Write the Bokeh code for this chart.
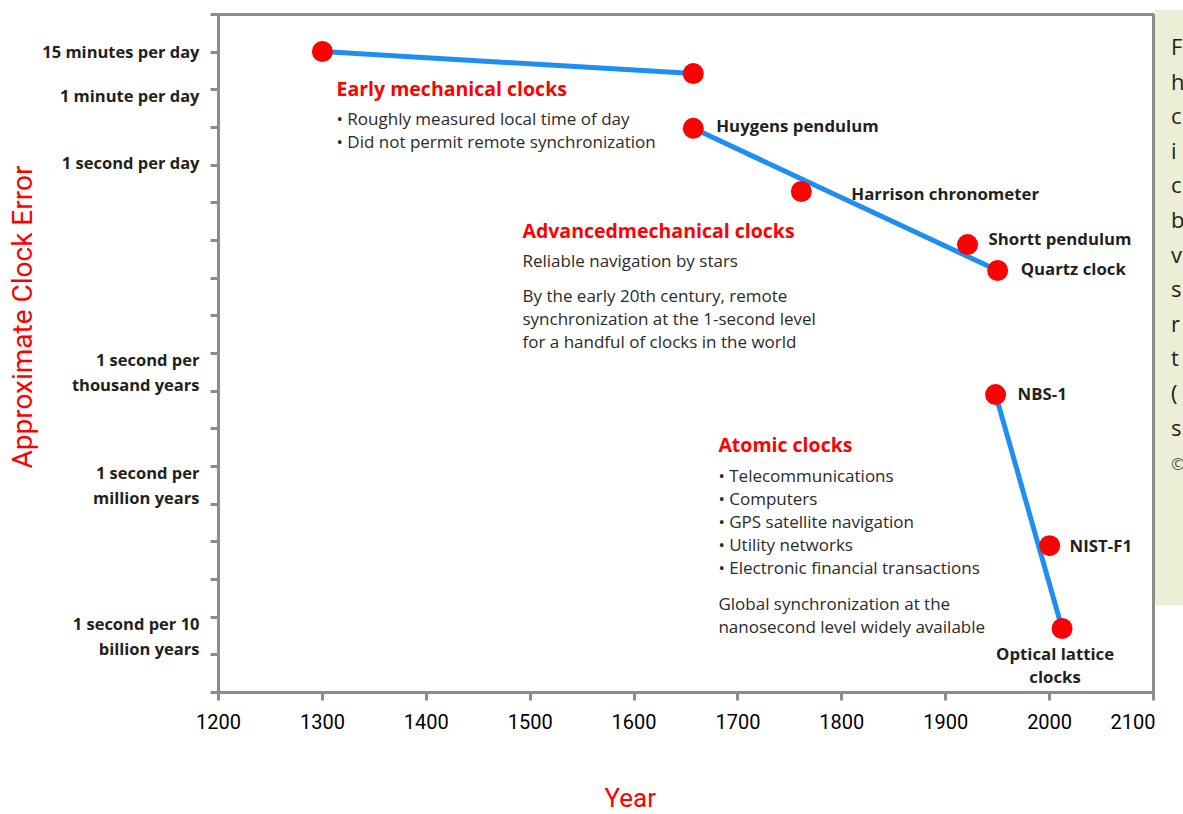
from bokeh.plotting import figure
from bokeh.models import (FixedTicker, Label, ColumnDataSource, Range1d, CustomJSTickFormatter,
                          LogAxis, Title, Div)
from bokeh.layouts import row
from bokeh.embed import file_html
from bokeh.resources import INLINE
from bokeh.core.properties import value

# ---------------- data ----------------
x_ticks = [1200, 1300, 1400, 1500, 1600, 1700, 1800, 1900, 2000, 2100]
y_ticks = [10.0 ** -k for k in range(1, 20)]

early_years = [1300, 1657]
early_error = [1.04e-2, 2.7e-3]

adv_years = [1657, 1761, 1921, 1950]
adv_error = [9.5e-5, 2.0e-6, 7.8e-8, 1.6e-8]
adv_names = ["Huygens pendulum", "Harrison chronometer", "Shortt pendulum", "Quartz clock"]

atomic_years = [1948, 2000, 2012]
atomic_error = [8.1e-12, 7.9e-16, 5.0e-18]
atomic_names = ["NBS-1", "NIST-F1", "Optical lattice\nclocks"]

error_label_values = [1.04e-2, 6.94e-4, 1.157e-5, 3.17e-11, 3.17e-14, 3.17e-18]
error_label_texts = ["15 minutes per day", "1 minute per day", "1 second per day",
                     "1 second per\nthousand years", "1 second per\nmillion years",
                     "1 second per 10\nbillion years"]

x_title = "Year"
y_title = "Approximate Clock Error"

early_title = "Early mechanical clocks"
early_lines = ["\u2022 Roughly measured local time of day",
               "\u2022 Did not permit remote synchronization"]
adv_title = "Advancedmechanical clocks"
adv_lines = ["Reliable navigation by stars",
             "By the early 20th century, remote",
             "synchronization at the 1-second level",
             "for a handful of clocks in the world"]
atomic_title = "Atomic clocks"
atomic_lines = ["\u2022 Telecommunications", "\u2022 Computers",
                "\u2022 GPS satellite navigation", "\u2022 Utility networks",
                "\u2022 Electronic financial transactions",
                "Global synchronization at the",
                "nanosecond level widely available"]

side_letters = ["F", "h", "c", "i", "c", "b", "v", "s", "r", "t", "(", "s"]

# ---------------- styles ----------------
RED = "#ff0000"
BLUE = "#1f8ef1"
GRAY = "#8c8c8c"
INK = "#231f20"
BODY = "#2a2a2a"
SANS = "Open Sans"
NARROW = "Roboto"

p = figure(width=1155, height=814,
           x_range=Range1d(1200, 2100), y_range=Range1d(1e-19, 1e-1),
           y_axis_type="log", output_backend="svg", toolbar_location=None,
           min_border_left=218, min_border_right=2, min_border_top=14, min_border_bottom=122,
           outline_line_color=GRAY, outline_line_width=3,
           background_fill_color="white", border_fill_color="white")
p.grid.visible = False

xa = p.xaxis[0]
xa.ticker = FixedTicker(ticks=x_ticks, minor_ticks=[])
xa.axis_line_color = GRAY
xa.axis_line_width = 3
xa.major_tick_line_color = GRAY
xa.major_tick_line_width = 3
xa.major_tick_out = 8
xa.major_tick_in = 0
xa.minor_tick_line_color = None
xa.major_label_text_font = NARROW
xa.major_label_text_font_size = "20px"
xa.major_label_text_color = "#000000"
xa.major_label_standoff = 13

ya = p.yaxis[0]
ya.ticker = FixedTicker(ticks=y_ticks, minor_ticks=[])
ya.formatter = CustomJSTickFormatter(code="return ' ';")
ya.axis_line_color = GRAY
ya.axis_line_width = 3
ya.major_tick_line_color = GRAY
ya.major_tick_line_width = 3
ya.major_tick_out = 8
ya.major_tick_in = 0
ya.minor_tick_line_color = None
ya.major_label_text_font_size = "10px"
ya.major_label_standoff = 0

# second left axis carrying the verbal error labels at their actual values
ya2 = LogAxis(ticker=FixedTicker(ticks=error_label_values, minor_ticks=[]),
              formatter=CustomJSTickFormatter(args=dict(texts=error_label_texts),
                                              code="return texts[index];"),
              axis_line_color=None, major_tick_line_color=None, minor_tick_line_color=None,
              major_tick_out=0, major_tick_in=0, major_label_standoff=5,
              major_label_text_font=SANS, major_label_text_font_style="bold",
              major_label_text_font_size="16.5px", major_label_text_color=INK,
              major_label_text_line_height=1.1)
p.add_layout(ya2, "left")

# axis titles (placed where the reference has them)
p.add_layout(Title(text=y_title, align="left", offset=224, standoff=2, text_font=NARROW,
                   text_font_size="28px", text_font_style="normal", text_color=RED), "left")
p.add_layout(Title(text=" ", standoff=46, text_font_size="1px"), "below")
p.add_layout(Title(text=x_title, align="left", offset=386, standoff=0, text_font=NARROW,
                   text_font_size="26px", text_font_style="normal", text_color=RED), "below")

# lines
p.line(early_years, early_error, line_color=BLUE, line_width=5)
p.line([adv_years[0], adv_years[-1]], [adv_error[0], adv_error[-1]], line_color=BLUE, line_width=5)
p.line([atomic_years[0], atomic_years[-1]], [atomic_error[0], atomic_error[-1]],
       line_color=BLUE, line_width=5)

# points
p.scatter(early_years + adv_years + atomic_years, early_error + adv_error + atomic_error,
          size=21, fill_color=RED, line_color=None)

# point labels
adv_dx = [23, 50, 21, 23]
adv_dy = [-3, 2, -6, -2]
adv_src = ColumnDataSource(dict(x=adv_years, y=adv_error, text=adv_names, dx=adv_dx, dy=adv_dy))
lab_kw = dict(text_font=value(SANS), text_font_style="bold", text_font_size="16.8px",
              text_color=INK, text_baseline="middle")
p.text("x", "y", "text", source=adv_src, x_offset="dx", y_offset="dy", text_align="left", **lab_kw)

at_src = ColumnDataSource(dict(x=atomic_years[:2], y=atomic_error[:2], text=atomic_names[:2],
                               dx=[22, 20], dy=[-1, 0]))
p.text("x", "y", "text", source=at_src, x_offset="dx", y_offset="dy", text_align="left", **lab_kw)
for i, part in enumerate(atomic_names[2].split("\n")):
    p.text([atomic_years[2]], [atomic_error[2]], [part], x_offset=-7, y_offset=25 + 23 * i,
           text_align="center", **lab_kw)


# text blocks
def block(x, y, title, lines, offsets):
    p.add_layout(Label(x=x, y=y, text=title, text_font=SANS, text_font_style="bold",
                       text_font_size="19.5px", text_color=RED, text_baseline="middle"))
    for t, dy in zip(lines, offsets):
        p.add_layout(Label(x=x, y=y, y_offset=-dy, text=t, text_font=SANS,
                           text_font_size="17px", text_color=BODY, text_baseline="middle"))


block(1313.6, 10 ** -2.964, early_title, early_lines, [30, 53])
block(1492.6, 10 ** -6.734, adv_title, adv_lines, [30, 65, 88, 111])
block(1681.2, 10 ** -12.415, atomic_title, atomic_lines, [31, 54, 77, 100, 123, 159, 182])

# neighbouring text box, cut off by the right edge of the picture
side_html = ("<div style=\"font-family:'Open Sans',sans-serif;font-size:22px;line-height:34.6px;"
             "color:#231f20;padding-left:16px;padding-top:29px;white-space:nowrap;\">"
             + "<br>".join(side_letters)
             + "<br><span style='font-size:17px;color:#555555'>\u00a9</span></div>")
side = Div(text=side_html, width=28, height=605, margin=(0, 0, 0, 0),
           styles={"background": "linear-gradient(to bottom, #ffffff 0px, #ffffff 10px, "
                                 "#ecefd6 10px, #ecefd6 100%)",
                   "overflow": "hidden", "margin": "0px", "padding": "0px"})

layout = row(p, side)
open("out.html", "w").write(file_html(layout, INLINE))
